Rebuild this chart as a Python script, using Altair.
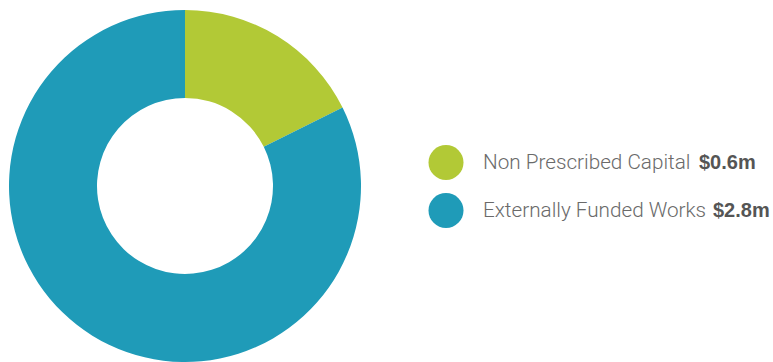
import altair as alt
import pandas as pd

categories = ["Non Prescribed Capital", "Externally Funded Works"]
values = [0.6, 2.8]
value_labels = ["$0.6m", "$2.8m"]
colors = ["#B2C936", "#1F9BB8"]

df = pd.DataFrame({
    "category": categories,
    "value": values,
    "vlabel": value_labels,
    "order": list(range(len(categories))),
})

color_scale = alt.Scale(domain=categories, range=colors)
ypos = alt.Scale(type="point", domain=categories, range=[162.5, 210.5], padding=0)

donut = alt.Chart(df).mark_arc(innerRadius=88, outerRadius=176).encode(
    theta=alt.Theta("value:Q", stack=True),
    color=alt.Color("category:N", scale=color_scale, legend=None),
    order=alt.Order("order:Q"),
    x=alt.value(185),
    y=alt.value(186),
)

dots = alt.Chart(df).mark_point(filled=True, shape="circle", size=1225, opacity=1).encode(
    x=alt.value(446),
    y=alt.Y("category:N", scale=ypos, axis=None),
    color=alt.Color("category:N", scale=color_scale, legend=None),
)

names = alt.Chart(df).mark_text(
    align="left", baseline="middle", font="Roboto", fontWeight=300,
    fontSize=20.7, color="#6a6a6a",
).encode(
    x=alt.value(483),
    y=alt.Y("category:N", scale=ypos, axis=None),
    text="category:N",
)

bold_offsets = {"Non Prescribed Capital": 216, "Externally Funded Works": 230}
bolds = []
for cat in categories:
    bolds.append(
        alt.Chart(df).transform_filter(alt.datum.category == cat).mark_text(
            align="left", baseline="middle", font="Liberation Sans", fontWeight="bold",
            fontSize=20, color="#555555", dx=bold_offsets[cat],
        ).encode(
            x=alt.value(483),
            y=alt.Y("category:N", scale=ypos, axis=None),
            text="vlabel:N",
        )
    )

chart = alt.layer(donut, dots, names, *bolds).properties(
    width=773, height=362,
    autosize=alt.AutoSizeParams(type="none"),
    padding=0,
).configure_view(stroke=None)

chart.save("out.html", embed_options={"renderer": "svg", "actions": False})
